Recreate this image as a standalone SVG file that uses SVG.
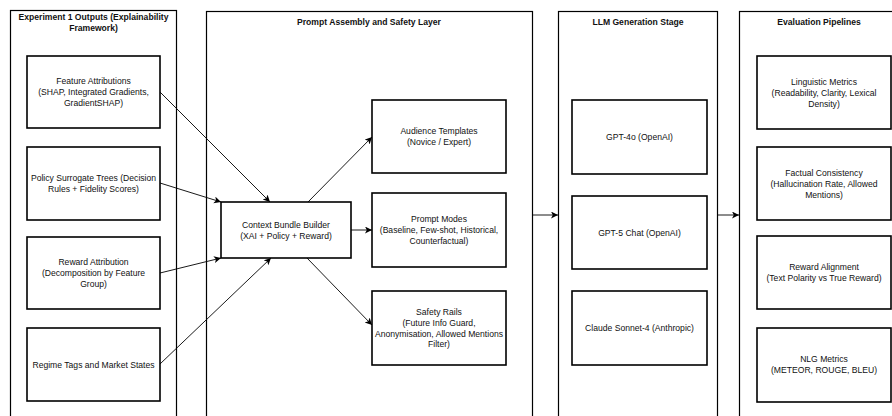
<svg xmlns="http://www.w3.org/2000/svg" width="892" height="416" viewBox="0 0 892 416">
  <style>
    .grp { fill: #ffffff; stroke: #000000; stroke-width: 1.2; }
    .box { fill: #ffffff; stroke: #000000; stroke-width: 1.6; }
    text { font-family: "Liberation Sans", Arial, Helvetica, sans-serif; font-size: 8.6px; fill: #111111; text-anchor: middle; dominant-baseline: central; }
    .title { font-weight: bold; }
    .edge { fill: none; stroke: #000000; stroke-width: 0.9; marker-end: url(#arrow); }
  </style>
  <defs>
    <marker id="arrow" markerUnits="userSpaceOnUse" markerWidth="8" markerHeight="8" refX="7" refY="3.5" orient="auto">
      <path d="M0,0 L7,3.5 L0,7 L1.8,3.5 z" fill="#000000"/>
    </marker>
  </defs>
  <rect width="892" height="416" fill="#ffffff"/>

  <!-- Swimlane containers -->
  <g id="lane-experiment1">
    <rect class="grp" x="10.5" y="10.5" width="166" height="420"/>
    <text class="title" x="93.5" y="17">Experiment 1 Outputs (Explainability</text>
    <text class="title" x="93.5" y="28">Framework)</text>
  </g>
  <g id="lane-prompt">
    <rect class="grp" x="206.5" y="11.5" width="326" height="420"/>
    <text class="title" x="369" y="22">Prompt Assembly and Safety Layer</text>
  </g>
  <g id="lane-llm">
    <rect class="grp" x="558.5" y="11.5" width="159" height="420"/>
    <text class="title" x="638" y="22">LLM Generation Stage</text>
  </g>
  <g id="lane-eval">
    <rect class="grp" x="739.5" y="11.5" width="159" height="420"/>
    <text class="title" x="819" y="22">Evaluation Pipelines</text>
  </g>

  <!-- Experiment 1 outputs -->
  <g id="feature-attributions">
    <rect class="box" x="27" y="56" width="133" height="72"/>
    <text x="93.5" y="81">Feature Attributions</text>
    <text x="93.5" y="92">(SHAP, Integrated Gradients,</text>
    <text x="93.5" y="103">GradientSHAP)</text>
  </g>
  <g id="policy-surrogate">
    <rect class="box" x="27" y="147" width="133" height="73"/>
    <text x="93.5" y="178">Policy Surrogate Trees (Decision</text>
    <text x="93.5" y="189">Rules + Fidelity Scores)</text>
  </g>
  <g id="reward-attribution">
    <rect class="box" x="27" y="237" width="133" height="72"/>
    <text x="93.5" y="262">Reward Attribution</text>
    <text x="93.5" y="273">(Decomposition by Feature</text>
    <text x="93.5" y="284">Group)</text>
  </g>
  <g id="regime-tags">
    <rect class="box" x="27" y="328" width="133" height="73"/>
    <text x="93.5" y="364.5">Regime Tags and Market States</text>
  </g>

  <!-- Prompt assembly -->
  <g id="context-bundle">
    <rect class="box" x="221" y="202" width="130" height="56"/>
    <text x="286" y="224.5">Context Bundle Builder</text>
    <text x="286" y="235.5">(XAI + Policy + Reward)</text>
  </g>
  <g id="audience-templates">
    <rect class="box" x="372" y="100" width="134" height="73"/>
    <text x="439" y="131">Audience Templates</text>
    <text x="439" y="142">(Novice / Expert)</text>
  </g>
  <g id="prompt-modes">
    <rect class="box" x="372" y="193" width="134" height="74"/>
    <text x="439" y="219">Prompt Modes</text>
    <text x="439" y="230">(Baseline, Few-shot, Historical,</text>
    <text x="439" y="241">Counterfactual)</text>
  </g>
  <g id="safety-rails">
    <rect class="box" x="372" y="291" width="134" height="74"/>
    <text x="439" y="312">Safety Rails</text>
    <text x="439" y="323">(Future Info Guard,</text>
    <text x="439" y="333.5">Anonymisation, Allowed Mentions</text>
    <text x="439" y="344">Filter)</text>
  </g>

  <!-- LLM generation -->
  <g id="gpt-4o">
    <rect class="box" x="572" y="100" width="135" height="74"/>
    <text x="639.5" y="137">GPT-4o (OpenAI)</text>
  </g>
  <g id="gpt-5-chat">
    <rect class="box" x="572" y="196" width="135" height="73"/>
    <text x="639.5" y="232.5">GPT-5 Chat (OpenAI)</text>
  </g>
  <g id="claude-sonnet-4">
    <rect class="box" x="572" y="291" width="135" height="74"/>
    <text x="639.5" y="328">Claude Sonnet-4 (Anthropic)</text>
  </g>

  <!-- Evaluation pipelines -->
  <g id="linguistic-metrics">
    <rect class="box" x="757" y="56" width="134" height="73"/>
    <text x="824" y="81.5">Linguistic Metrics</text>
    <text x="824" y="92.5">(Readability, Clarity, Lexical</text>
    <text x="824" y="103.5">Density)</text>
  </g>
  <g id="factual-consistency">
    <rect class="box" x="757" y="147" width="134" height="73"/>
    <text x="824" y="173">Factual Consistency</text>
    <text x="824" y="184">(Hallucination Rate, Allowed</text>
    <text x="824" y="195">Mentions)</text>
  </g>
  <g id="reward-alignment">
    <rect class="box" x="757" y="236" width="134" height="73"/>
    <text x="824" y="267">Reward Alignment</text>
    <text x="824" y="278">(Text Polarity vs True Reward)</text>
  </g>
  <g id="nlg-metrics">
    <rect class="box" x="757" y="328" width="134" height="74"/>
    <text x="824" y="359">NLG Metrics</text>
    <text x="824" y="370">(METEOR, ROUGE, BLEU)</text>
  </g>

  <!-- Connectors -->
  <g id="connectors">
    <path class="edge" d="M160,92 L270,202"/>
    <path class="edge" d="M160,183 L221,202"/>
    <path class="edge" d="M160,273 L221,258"/>
    <path class="edge" d="M160,364 L271,258"/>
    <path class="edge" d="M308,202 L372,137"/>
    <path class="edge" d="M351,230 L372,230"/>
    <path class="edge" d="M307,258 L372,325"/>
    <path class="edge" d="M532,215 L558,215"/>
    <path class="edge" d="M717,215 L739,215"/>
  </g>
</svg>
